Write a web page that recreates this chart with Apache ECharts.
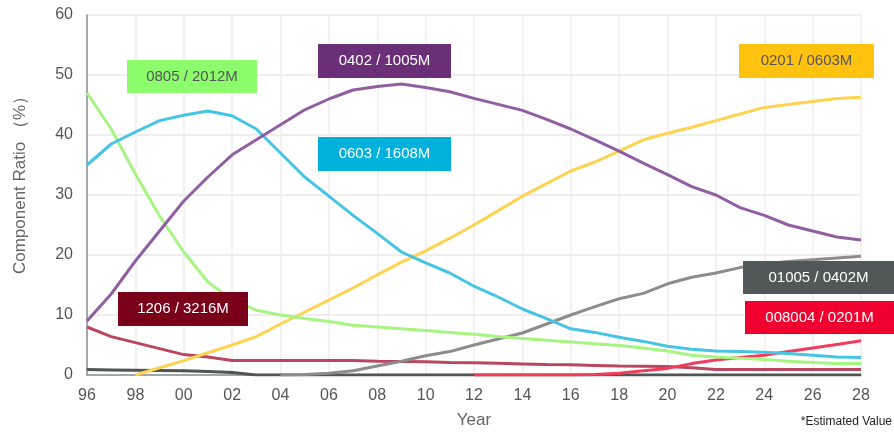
<!DOCTYPE html>
<html>
<head>
<meta charset="utf-8">
<script src="https://cdn.jsdelivr.net/npm/echarts@6/dist/echarts.min.js"></script>
<style>
  html, body { margin: 0; padding: 0; background: #fff; }
  #chart { width: 894px; height: 432px; }
</style>
</head>
<body>
<div id="chart"></div>
<script>
// years 1996..2028
const years = [];
for (let y = 1996; y <= 2028; y++) years.push(String(y));

const s0805 = [47, 41, 33.5, 26.5, 20.5, 15.5, 12.5, 10.8, 10, 9.4, 8.9, 8.3, 8, 7.7, 7.4, 7.1, 6.8, 6.4, 6.1, 5.8, 5.5, 5.2, 4.9, 4.5, 4, 3.3, 3, 2.8, 2.6, 2.3, 2.1, 1.9, 1.9];
const s0603 = [35, 38.5, 40.5, 42.4, 43.3, 44, 43.2, 41, 37, 33, 29.8, 26.6, 23.6, 20.5, 18.7, 17, 14.8, 13, 11, 9.4, 7.7, 7.1, 6.3, 5.6, 4.8, 4.3, 4, 3.9, 3.8, 3.6, 3.3, 3, 2.9];
const s0402 = [9, 13.5, 19, 24, 29, 33, 36.7, 39.2, 41.7, 44.2, 46, 47.5, 48.1, 48.5, 47.9, 47.2, 46.1, 45.1, 44.1, 42.6, 41, 39.2, 37.3, 35.3, 33.4, 31.4, 30, 27.9, 26.6, 25, 24, 23, 22.5];
const s0201 = [null, null, 0, 1.2, 2.4, 3.7, 5, 6.4, 8.5, 10.5, 12.5, 14.5, 16.7, 18.8, 20.7, 22.8, 25, 27.4, 29.8, 31.9, 34, 35.5, 37.3, 39.2, 40.3, 41.3, 42.4, 43.5, 44.6, 45.1, 45.6, 46.1, 46.3];
const s01005 = [null, null, null, null, null, null, null, null, 0, 0.1, 0.3, 0.7, 1.5, 2.3, 3.2, 3.9, 5, 6, 7, 8.5, 10, 11.4, 12.7, 13.6, 15.2, 16.3, 17, 17.9, 18.5, 18.9, 19.2, 19.5, 19.8];
const s008004 = [null, null, null, null, null, null, null, null, null, null, null, null, null, null, null, null, 0, 0, 0, 0, 0, 0.1, 0.3, 0.7, 1.1, 1.9, 2.5, 2.9, 3.3, 3.9, 4.5, 5.1, 5.7];
const s1206 = [8, 6.4, 5.4, 4.4, 3.4, 3, 2.4, 2.4, 2.4, 2.4, 2.4, 2.4, 2.3, 2.25, 2.2, 2.1, 2.05, 1.95, 1.85, 1.75, 1.7, 1.6, 1.5, 1.45, 1.4, 1.2, 0.9, 0.9, 0.9, 0.9, 0.9, 0.9, 0.9];
const sOther = [0.9, 0.85, 0.8, 0.75, 0.7, 0.6, 0.4, 0, 0, 0, 0, 0, 0, 0, 0, 0, 0, 0, 0, 0, 0, 0, 0, 0, 0, 0, 0, 0, 0, 0, 0, 0, 0];

const FONT = "'Liberation Sans', Arial, sans-serif";

function line(name, data, color) {
  return {
    name: name,
    type: "line",
    data: data,
    symbol: "none",
    smooth: false,
    lineStyle: { color: color, width: 3 },
    itemStyle: { color: color },
  };
}

// coloured label box: a rect plus a centred text on top
function tag(x, y, w, h, text, bg, fg) {
  return [
    {
      type: "rect",
      z: 100,
      shape: { x: x, y: y, width: w, height: h },
      style: { fill: bg },
    },
    {
      type: "text",
      z: 101,
      x: x + w / 2,
      y: y + h / 2,
      style: { text: text, fill: fg, font: "15px " + FONT, align: "center", verticalAlign: "middle" },
    },
  ];
}

const chart = echarts.init(document.getElementById("chart"));
chart.setOption({
  backgroundColor: "#fff",
  animation: false,
  grid: { left: 87, right: 33, top: 15, bottom: 57, outerBoundsMode: "none" },
  xAxis: {
    type: "category",
    data: years,
    boundaryGap: false,
    name: "Year",
    nameLocation: "middle",
    nameGap: 37,
    nameTextStyle: { color: "#666", fontSize: 17, fontFamily: FONT },
    axisLine: { lineStyle: { color: "#8a8f8f", width: 1.5 } },
    axisTick: { show: false },
    axisLabel: {
      interval: 1,
      margin: 13,
      color: "#555",
      fontSize: 16,
      fontFamily: FONT,
      formatter: (v) => v.slice(2),
    },
    splitLine: { show: true, interval: 1, lineStyle: { color: "#eeeeee", width: 1.5 } },
  },
  yAxis: {
    type: "value",
    min: 0,
    max: 60,
    interval: 10,
    name: "Component Ratio （%）",
    nameLocation: "middle",
    nameGap: 58,
    nameTextStyle: { color: "#666", fontSize: 17, fontFamily: FONT, padding: [0, 0, 0, 28] },
    axisLine: { show: true, lineStyle: { color: "#8a8f8f", width: 1.5 } },
    axisTick: { show: false },
    axisLabel: { margin: 14, color: "#555", fontSize: 16, fontFamily: FONT },
    splitLine: { lineStyle: { color: "#e8e8e8", width: 1.5 } },
  },
  series: [
    line("other", sOther, "#4f5555"),
    line("1206 / 3216M", s1206, "#b8475f"),
    line("008004 / 0201M", s008004, "#f23c5c"),
    line("01005 / 0402M", s01005, "#8c8c8c"),
    line("0201 / 0603M", s0201, "#ffd24f"),
    line("0805 / 2012M", s0805, "#a6f582"),
    line("0603 / 1608M", s0603, "#45c4e4"),
    line("0402 / 1005M", s0402, "#905fa2"),
  ],
  graphic: [].concat(
    tag(127, 60, 130, 33, "0805 / 2012M", "#8cfb6c", "#555"),
    tag(318, 44, 133, 34, "0402 / 1005M", "#6b2f77", "#fff"),
    tag(318, 137, 133, 34, "0603 / 1608M", "#00b1dc", "#fff"),
    tag(739, 44, 135, 34, "0201 / 0603M", "#ffc20e", "#555"),
    tag(743, 261, 151, 33, "01005 / 0402M", "#505858", "#fff"),
    tag(745, 301, 149, 33, "008004 / 0201M", "#f0002e", "#fff"),
    tag(118, 292, 130, 34, "1206 / 3216M", "#7a0019", "#fff"),
    [{
      type: "text",
      right: 2,
      top: 416,
      z: 100,
      style: { text: "*Estimated Value", fill: "#222", font: "12px " + FONT },
    }]
  ),
});
</script>
</body>
</html>
